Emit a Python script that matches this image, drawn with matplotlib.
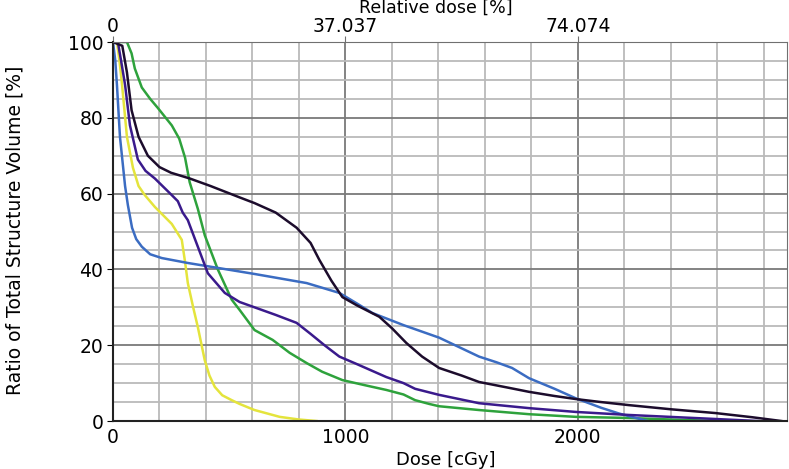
import matplotlib.pyplot as plt
from matplotlib.ticker import MultipleLocator

# dose-volume curves (dose in cGy, volume in %)
black_dose = [0, 40, 60, 80, 110, 150, 200, 250, 330, 420, 545, 609, 700, 790, 850, 888, 940, 987,
              1050, 1146, 1200, 1262, 1330, 1403, 1500, 1575, 1700, 1790, 1900, 1991, 2100, 2219,
              2400, 2592, 2750, 2876]
black_vol = [100, 99, 92, 82, 75, 70, 67, 65.5, 64, 62, 59, 57.5, 55, 51, 47, 42.5, 37, 32.7,
             30.5, 27.5, 24.5, 20.6, 17, 14, 12, 10.3, 8.8, 7.7, 6.6, 5.8, 5, 4.2,
             3.1, 2.1, 1, 0]

green_dose = [0, 40, 60, 80, 94, 124, 160, 193, 253, 285, 310, 330, 365, 395, 451, 511, 545, 609, 687,
              760, 833, 900, 987, 1080, 1176, 1250, 1300, 1361, 1403, 1575, 1790, 1991, 2219, 2400, 2600]
green_vol = [100, 100, 100, 97, 93, 88, 85, 82.6, 78, 74.5, 69.5, 63, 56, 49, 40, 32, 29.3, 24, 21.4,
             18, 15.3, 13, 10.8, 9.5, 8.2, 7, 5.5, 4.5, 3.9, 2.9, 1.8, 1.1, 0.8, 0.4, 0]

blue_dose = [0, 10, 17, 30, 52, 64, 82, 100, 124, 160, 210, 322, 451, 609, 833, 974, 1050, 1116,
             1250, 1403, 1575, 1650, 1717, 1790, 1900, 1991, 2100, 2176, 2300]
blue_vol = [100, 95, 88.7, 75, 62, 57, 51, 48, 46, 44, 43, 41.7, 40.4, 38.8, 36.4, 33.8, 31, 28.5,
            25.3, 22, 17, 15.5, 14, 11.3, 8.5, 6, 3.5, 2, 0]

purple_dose = [0, 21, 35, 52, 73, 107, 140, 180, 253, 279, 300, 322, 365, 408, 481, 545, 609, 700,
               790, 850, 910, 974, 1050, 1176, 1250, 1300, 1403, 1575, 1790, 1991, 2219, 2500, 2777]
purple_vol = [100, 100, 95, 88.7, 78, 69, 66, 64, 59.6, 58, 55, 53, 46, 39, 33.8, 31.4, 30, 28,
              25.9, 23, 20, 17, 15, 11.6, 10, 8.5, 6.9, 4.7, 3.4, 2.4, 1.6, 0.8, 0]

yellow_dose = [0, 17, 28, 39, 60, 86, 110, 137, 180, 253, 296, 310, 322, 345, 365, 395, 415, 438,
               470, 511, 545, 609, 717, 800, 876]
yellow_vol = [100, 100, 95, 88.7, 75, 66.8, 62, 59.6, 56.5, 52, 47.8, 42, 36.4, 30, 24.8, 16, 12, 9,
              6.8, 5.5, 4.5, 2.9, 1.1, 0.4, 0]

top_ticks = [0, 1000, 2000]
top_labels = ['0', '37.037', '74.074']

fig = plt.figure(figsize=(7.89, 4.69), dpi=100)
ax = fig.add_axes([0.1432, 0.1023, 0.8543, 0.8081])

ax.set_xlim(0, 2900)
ax.set_ylim(0, 100)
ax.xaxis.set_major_locator(MultipleLocator(1000))
ax.xaxis.set_minor_locator(MultipleLocator(200))
ax.yaxis.set_major_locator(MultipleLocator(20))
ax.yaxis.set_minor_locator(MultipleLocator(5))
ax.grid(which='minor', color='#bababa', lw=1.3)
ax.grid(which='major', color='#7a7a7a', lw=1.3)
ax.set_axisbelow(True)

ax.plot(yellow_dose, yellow_vol, color='#e4e43c', lw=1.8)
ax.plot(green_dose, green_vol, color='#2ea23c', lw=1.8)
ax.plot(blue_dose, blue_vol, color='#3b6cc2', lw=1.8)
ax.plot(purple_dose, purple_vol, color='#3a1a8c', lw=1.8)
ax.plot(black_dose, black_vol, color='#1c0c2c', lw=1.8)

for s in ['top', 'right']:
    ax.spines[s].set_color('#707070')
for s in ['left', 'bottom']:
    ax.spines[s].set_color('#222222')
    ax.spines[s].set_linewidth(1.5)

ax.tick_params(which='minor', length=0)
ax.tick_params(axis='x', which='major', length=0, labelsize=13.5, pad=5)
ax.tick_params(axis='y', which='major', length=4, labelsize=13.5, pad=3)
ax.set_xlabel('Dose [cGy]', fontsize=13)
ax.xaxis.set_label_coords(0.493, -0.079)
ax.set_ylabel('Ratio of Total Structure Volume [%]', fontsize=13.5)
ax.yaxis.set_label_coords(-0.132, 0.504)

top = ax.secondary_xaxis('top')
top.set_xticks(top_ticks)
top.set_xticklabels(top_labels)
top.tick_params(length=4, labelsize=13.5, pad=0, color='#707070')
top.spines['top'].set_visible(False)
fig.text(436 / 789, 1 - 8 / 469, 'Relative dose [%]', fontsize=12.5, ha='center', va='center')

plt.savefig('out.png')
